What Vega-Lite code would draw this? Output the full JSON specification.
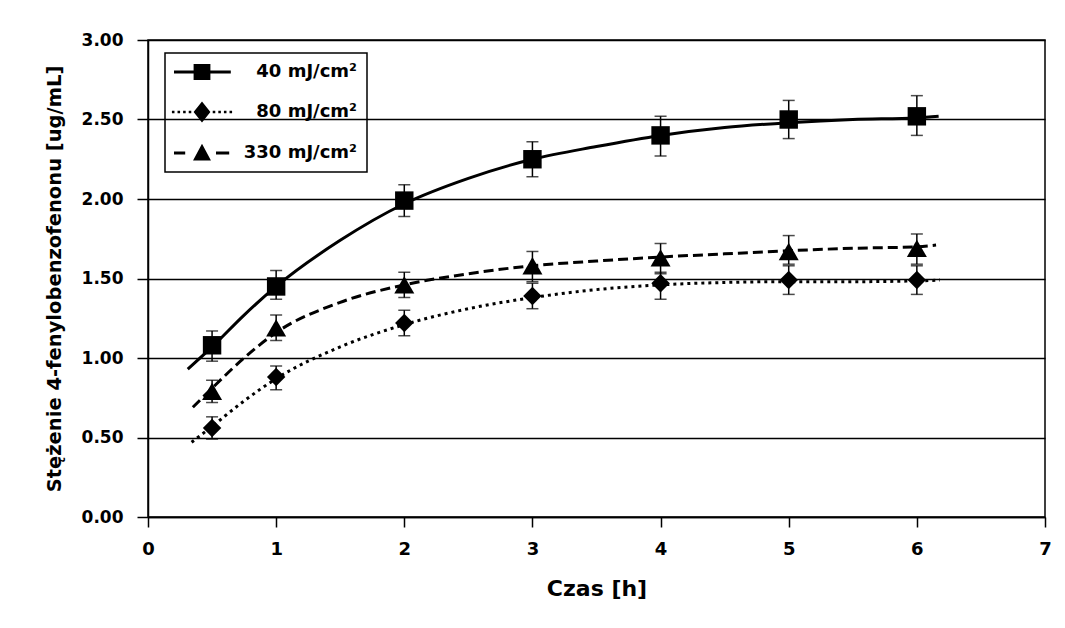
{
  "$schema": "https://vega.github.io/schema/vega-lite/v6.json",
  "width": 897,
  "height": 477,
  "autosize": {"type": "none"},
  "padding": {"left": 148, "top": 40, "right": 20, "bottom": 111},
  "background": "white",
  "config": {
    "view": {"stroke": "black", "strokeWidth": 1.5},
    "font": "DejaVu Sans",
    "legend": {"strokeWidth": 1.5}
  },
  "datasets": {
    "points": [
      {"series": "40 mJ/cm²", "x": 0.5, "y": 1.08, "lo": 0.98, "hi": 1.17},
      {"series": "40 mJ/cm²", "x": 1, "y": 1.45, "lo": 1.37, "hi": 1.55},
      {"series": "40 mJ/cm²", "x": 2, "y": 1.99, "lo": 1.89, "hi": 2.09},
      {"series": "40 mJ/cm²", "x": 3, "y": 2.25, "lo": 2.14, "hi": 2.36},
      {"series": "40 mJ/cm²", "x": 4, "y": 2.40, "lo": 2.27, "hi": 2.52},
      {"series": "40 mJ/cm²", "x": 5, "y": 2.50, "lo": 2.38, "hi": 2.62},
      {"series": "40 mJ/cm²", "x": 6, "y": 2.52, "lo": 2.40, "hi": 2.65},
      {"series": "80 mJ/cm²", "x": 0.5, "y": 0.56, "lo": 0.49, "hi": 0.63},
      {"series": "80 mJ/cm²", "x": 1, "y": 0.88, "lo": 0.80, "hi": 0.95},
      {"series": "80 mJ/cm²", "x": 2, "y": 1.22, "lo": 1.14, "hi": 1.30},
      {"series": "80 mJ/cm²", "x": 3, "y": 1.39, "lo": 1.31, "hi": 1.47},
      {"series": "80 mJ/cm²", "x": 4, "y": 1.47, "lo": 1.37, "hi": 1.54},
      {"series": "80 mJ/cm²", "x": 5, "y": 1.49, "lo": 1.40, "hi": 1.58},
      {"series": "80 mJ/cm²", "x": 6, "y": 1.49, "lo": 1.40, "hi": 1.58},
      {"series": "330 mJ/cm²", "x": 0.5, "y": 0.79, "lo": 0.72, "hi": 0.86},
      {"series": "330 mJ/cm²", "x": 1, "y": 1.19, "lo": 1.11, "hi": 1.27},
      {"series": "330 mJ/cm²", "x": 2, "y": 1.46, "lo": 1.38, "hi": 1.54},
      {"series": "330 mJ/cm²", "x": 3, "y": 1.58, "lo": 1.48, "hi": 1.67},
      {"series": "330 mJ/cm²", "x": 4, "y": 1.63, "lo": 1.53, "hi": 1.72},
      {"series": "330 mJ/cm²", "x": 5, "y": 1.67, "lo": 1.59, "hi": 1.77},
      {"series": "330 mJ/cm²", "x": 6, "y": 1.69, "lo": 1.59, "hi": 1.78}
    ],
    "curves": [
      {"series": "40 mJ/cm²", "x": 0.31, "y": 0.93},
      {"series": "40 mJ/cm²", "x": 0.5, "y": 1.07},
      {"series": "40 mJ/cm²", "x": 0.75, "y": 1.27},
      {"series": "40 mJ/cm²", "x": 1, "y": 1.45},
      {"series": "40 mJ/cm²", "x": 1.5, "y": 1.74},
      {"series": "40 mJ/cm²", "x": 2, "y": 1.97},
      {"series": "40 mJ/cm²", "x": 2.5, "y": 2.13},
      {"series": "40 mJ/cm²", "x": 3, "y": 2.25},
      {"series": "40 mJ/cm²", "x": 3.5, "y": 2.33},
      {"series": "40 mJ/cm²", "x": 4, "y": 2.40},
      {"series": "40 mJ/cm²", "x": 4.5, "y": 2.45},
      {"series": "40 mJ/cm²", "x": 5, "y": 2.48},
      {"series": "40 mJ/cm²", "x": 5.5, "y": 2.50},
      {"series": "40 mJ/cm²", "x": 6, "y": 2.51},
      {"series": "40 mJ/cm²", "x": 6.17, "y": 2.52},
      {"series": "80 mJ/cm²", "x": 0.34, "y": 0.47},
      {"series": "80 mJ/cm²", "x": 0.5, "y": 0.57},
      {"series": "80 mJ/cm²", "x": 0.75, "y": 0.73},
      {"series": "80 mJ/cm²", "x": 1, "y": 0.87},
      {"series": "80 mJ/cm²", "x": 1.5, "y": 1.07},
      {"series": "80 mJ/cm²", "x": 2, "y": 1.21},
      {"series": "80 mJ/cm²", "x": 2.5, "y": 1.31},
      {"series": "80 mJ/cm²", "x": 3, "y": 1.38},
      {"series": "80 mJ/cm²", "x": 3.5, "y": 1.43},
      {"series": "80 mJ/cm²", "x": 4, "y": 1.46},
      {"series": "80 mJ/cm²", "x": 4.5, "y": 1.475},
      {"series": "80 mJ/cm²", "x": 5, "y": 1.48},
      {"series": "80 mJ/cm²", "x": 5.5, "y": 1.48},
      {"series": "80 mJ/cm²", "x": 6, "y": 1.485},
      {"series": "80 mJ/cm²", "x": 6.18, "y": 1.49},
      {"series": "330 mJ/cm²", "x": 0.35, "y": 0.69},
      {"series": "330 mJ/cm²", "x": 0.5, "y": 0.81},
      {"series": "330 mJ/cm²", "x": 0.75, "y": 1.0},
      {"series": "330 mJ/cm²", "x": 1, "y": 1.16},
      {"series": "330 mJ/cm²", "x": 1.5, "y": 1.35},
      {"series": "330 mJ/cm²", "x": 2, "y": 1.46},
      {"series": "330 mJ/cm²", "x": 2.5, "y": 1.53},
      {"series": "330 mJ/cm²", "x": 3, "y": 1.58},
      {"series": "330 mJ/cm²", "x": 3.5, "y": 1.61},
      {"series": "330 mJ/cm²", "x": 4, "y": 1.635},
      {"series": "330 mJ/cm²", "x": 4.5, "y": 1.655},
      {"series": "330 mJ/cm²", "x": 5, "y": 1.675},
      {"series": "330 mJ/cm²", "x": 5.5, "y": 1.69},
      {"series": "330 mJ/cm²", "x": 6, "y": 1.70},
      {"series": "330 mJ/cm²", "x": 6.15, "y": 1.71}
    ],
    "legendrows": []
  },
  "encoding": {
    "x": {
      "field": "x", "type": "quantitative",
      "scale": {"domain": [0, 7], "nice": false, "zero": false},
      "axis": {
        "title": "Czas [h]", "values": [0, 1, 2, 3, 4, 5, 6, 7], "format": "d", "grid": false, "labelFlush": false,
        "domainColor": "black", "domainWidth": 1.5, "tickColor": "black", "tickWidth": 1.5, "tickSize": 10,
        "labelPadding": 13, "labelFontSize": 18, "labelFontWeight": "bold", "labelColor": "black", "labelFont": "DejaVu Sans",
        "titleFontSize": 22, "titleFontWeight": "bold", "titleColor": "black", "titleFont": "DejaVu Sans", "titlePadding": 20
      }
    },
    "y": {
      "field": "y", "type": "quantitative",
      "scale": {"domain": [0, 3], "nice": false},
      "axis": {
        "title": "Stężenie 4-fenylobenzofenonu  [ug/mL]", "values": [0, 0.5, 1, 1.5, 2, 2.5, 3], "format": ".2f", "labelFlush": false,
        "grid": true, "gridColor": "black", "gridWidth": 1.5, "gridOpacity": 1,
        "domainColor": "black", "domainWidth": 1.5, "tickColor": "black", "tickWidth": 1.5, "tickSize": 11,
        "labelPadding": 14, "labelFontSize": 17, "labelFontWeight": "bold", "labelColor": "black", "labelFont": "DejaVu Sans",
        "titleFontSize": 19.5, "titleFontWeight": "bold", "titleColor": "black", "titleFont": "DejaVu Sans", "titlePadding": 17
      }
    }
  },
  "layer": [
    {
      "data": {"name": "points"},
      "mark": {"type": "errorbar", "ticks": {"size": 12, "thickness": 1.5, "color": "black"}, "rule": {"strokeWidth": 1.5, "color": "black"}},
      "encoding": {
        "y": {"field": "lo", "type": "quantitative"},
        "y2": {"field": "hi"}
      }
    },
    {
      "data": {"name": "curves"},
      "transform": [{"filter": "datum.series === '40 mJ/cm²'"}],
      "mark": {"type": "line", "color": "black", "strokeWidth": 3, "interpolate": "monotone"}
    },
    {
      "data": {"name": "curves"},
      "transform": [{"filter": "datum.series === '80 mJ/cm²'"}],
      "mark": {"type": "line", "color": "black", "strokeWidth": 3, "strokeDash": [3, 4], "interpolate": "monotone"}
    },
    {
      "data": {"name": "curves"},
      "transform": [{"filter": "datum.series === '330 mJ/cm²'"}],
      "mark": {"type": "line", "color": "black", "strokeWidth": 3, "strokeDash": [10, 5], "interpolate": "monotone"}
    },
    {
      "data": {"name": "points"},
      "transform": [{"filter": "datum.series === '40 mJ/cm²'"}],
      "mark": {"type": "point", "shape": "square", "filled": true, "color": "black", "size": 340, "opacity": 1}
    },
    {
      "data": {"name": "points"},
      "transform": [{"filter": "datum.series === '80 mJ/cm²'"}],
      "mark": {"type": "point", "shape": "diamond", "filled": true, "color": "black", "size": 340, "opacity": 1}
    },
    {
      "data": {"name": "points"},
      "transform": [{"filter": "datum.series === '330 mJ/cm²'"}],
      "mark": {"type": "point", "shape": "triangle-up", "filled": true, "color": "black", "size": 400, "opacity": 1}
    },
    {
      "data": {"name": "legendrows"},
      "mark": {"type": "point", "filled": true, "color": "black", "size": 256, "opacity": 1},
      "encoding": {
        "shape": {
          "field": "series", "type": "nominal",
          "scale": {
            "domain": ["40 mJ/cm²", "80 mJ/cm²", "330 mJ/cm²"],
            "range": [
              "M-3.5,-0.19H3.6V0.19H-3.5Z M-1.05,-1H1.05V1H-1.05Z",
              "M-3.76,-0.16H-3.44V0.16H-3.76Z M-3.06,-0.16H-2.74V0.16H-3.06Z M-2.36,-0.16H-2.04V0.16H-2.36Z M-1.66,-0.16H-1.34V0.16H-1.66Z M1.34,-0.16H1.66V0.16H1.34Z M2.04,-0.16H2.36V0.16H2.04Z M2.74,-0.16H3.06V0.16H2.74Z M3.44,-0.16H3.76V0.16H3.44Z M0,-1.3L1.05,0L0,1.3L-1.05,0Z",
              "M-3.5,-0.2H-2.1V0.2H-3.5Z M1.75,-0.2H3.4V0.2H1.75Z M0,-1.15L1.12,0.95L-1.12,0.95Z"
            ]
          },
          "legend": {
            "title": null, "orient": "none", "legendX": 17, "legendY": 13,
            "strokeColor": "black", "padding": 10, "rowPadding": 20,
            "symbolSize": 256, "symbolOffset": 18, "labelOffset": 146, "labelAlign": "right",
            "labelFont": "DejaVu Sans", "labelFontSize": 18, "labelFontWeight": "bold", "labelColor": "black",
            "symbolFillColor": "black", "symbolStrokeWidth": 0
          }
        }
      }
    }
  ]
}
